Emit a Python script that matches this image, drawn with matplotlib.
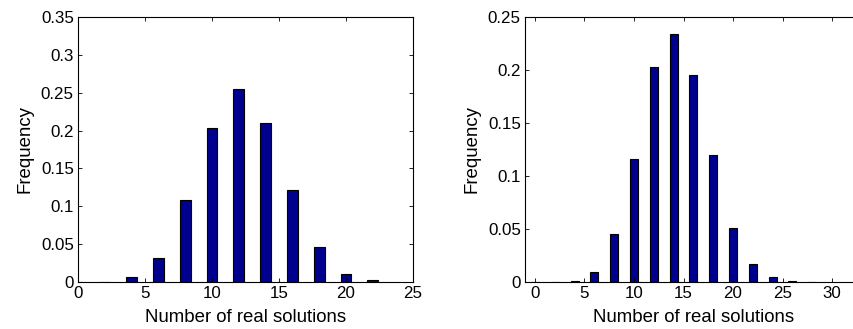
import numpy as np
import matplotlib.pyplot as plt

# left histogram
solutions_a = [0, 2, 4, 6, 8, 10, 12, 14, 16, 18, 20, 22]
freq_a = [0.0, 0.0, 0.006, 0.032, 0.108, 0.204, 0.255, 0.210, 0.121, 0.046, 0.010, 0.002]

# right histogram
solutions_b = [0, 2, 4, 6, 8, 10, 12, 14, 16, 18, 20, 22, 24, 26, 28]
freq_b = [0.0, 0.0, 0.0005, 0.009, 0.045, 0.116, 0.203, 0.234, 0.1955, 0.120, 0.051, 0.0173, 0.0047, 0.0005, 0.0]

xticks_a = [0, 5, 10, 15, 20, 25]
yticks_a = [0, 0.05, 0.1, 0.15, 0.2, 0.25, 0.3, 0.35]
xticks_b = [0, 5, 10, 15, 20, 25, 30]
yticks_b = [0, 0.05, 0.1, 0.15, 0.2, 0.25]

plt.rcParams['font.family'] = ['Liberation Sans', 'DejaVu Sans']
plt.rcParams['font.size'] = 12.2

bar_color = (0, 0, 0.5625)

fig = plt.figure(figsize=(8.54, 3.29), dpi=100)
ax1 = fig.add_axes([0.0913, 0.1429, 0.3923, 0.8055])
ax2 = fig.add_axes([0.6148, 0.1429, 0.3943, 0.8055])


def fmt(v):
    s = f"{v:g}"
    return s


for ax, xs, ys, xt, yt, xlim, ylim in [
    (ax1, solutions_a, freq_a, xticks_a, yticks_a, (0, 25), (0, 0.35)),
    (ax2, solutions_b, freq_b, xticks_b, yticks_b, (-1, 33), (0, 0.25)),
]:
    ax.bar(xs, ys, width=0.8, color=bar_color, edgecolor='black', linewidth=0.8)
    ax.set_xlim(*xlim)
    ax.set_ylim(*ylim)
    ax.set_xticks(xt)
    ax.set_yticks(yt)
    ax.set_yticklabels([fmt(v) for v in yt])
    ax.tick_params(direction='in', top=True, right=True, length=3, width=0.6, pad=3)
    for sp in ax.spines.values():
        sp.set_linewidth(0.8)
    ax.set_xlabel('Number of real solutions', fontsize=13.4, labelpad=6)
    ax.set_ylabel('Frequency', fontsize=13.4, labelpad=5)

fig.savefig('out.png', dpi=100)
